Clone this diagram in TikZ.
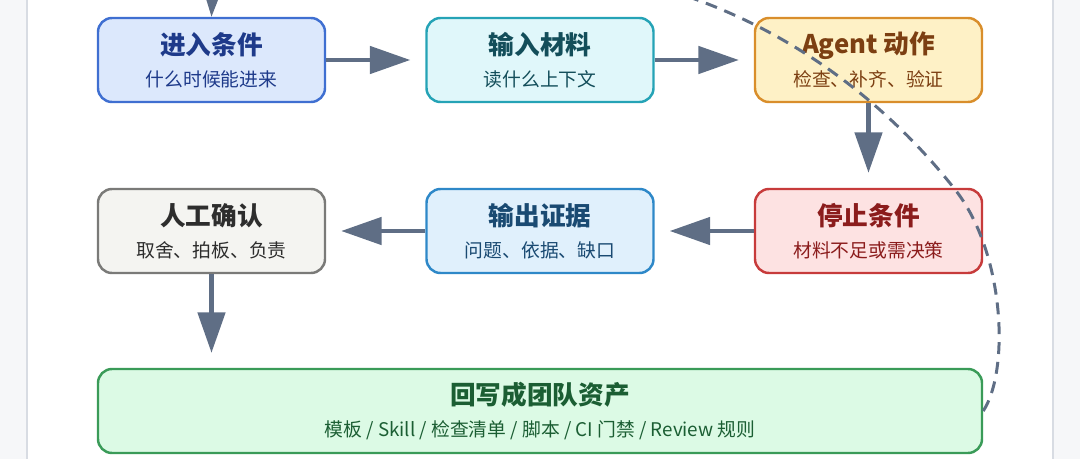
\documentclass[tikz,border=0pt]{standalone}
\usepackage{fontspec}
\setmainfont{Noto Sans CJK SC}
\usepackage{tikz}
\usetikzlibrary{positioning, arrows.meta}

\definecolor{entryfill}{HTML}{DCE8FC}
\definecolor{entryline}{HTML}{3F6FD1}
\definecolor{entrytext}{HTML}{1E3A8A}
\definecolor{inputfill}{HTML}{E0F7FA}
\definecolor{inputline}{HTML}{25A3B6}
\definecolor{inputtext}{HTML}{134E5A}
\definecolor{agentfill}{HTML}{FEF1C6}
\definecolor{agentline}{HTML}{D98E2B}
\definecolor{agenttext}{HTML}{7C3F12}
\definecolor{stopfill}{HTML}{FDE2E2}
\definecolor{stopline}{HTML}{C73B3B}
\definecolor{stoptext}{HTML}{8B1C1C}
\definecolor{evidfill}{HTML}{E0F0FC}
\definecolor{evidline}{HTML}{2E88C8}
\definecolor{evidtext}{HTML}{1A4A72}
\definecolor{humanfill}{HTML}{F4F4F1}
\definecolor{humanline}{HTML}{7A7A78}
\definecolor{humantext}{HTML}{2D2D2D}
\definecolor{assetfill}{HTML}{DCFAE5}
\definecolor{assetline}{HTML}{3A9B58}
\definecolor{assettext}{HTML}{1B5E33}
\definecolor{arrowgray}{HTML}{5F6E85}
\definecolor{sidegray}{HTML}{F6F7F9}
\definecolor{sideline}{HTML}{D8DCE3}

\newcommand{\stagetitle}[1]{{\fontsize{14.6}{18.4}\selectfont\bfseries #1}}

\begin{document}
\begin{tikzpicture}[
    stage/.style={rectangle, rounded corners=0.28cm, line width=1.4pt,
        minimum width=4.54cm, minimum height=1.68cm, align=center,
        font=\fontsize{10.7}{18.4}\selectfont},
    flow/.style={draw=arrowgray, line width=2.3pt,
        -{Triangle[length=23pt, width=15.5pt]}, shorten >=0.3cm},
    loopback/.style={draw=arrowgray, line width=1.7pt, dash pattern=on 6.8pt off 4.5pt,
        -{Triangle[length=23pt, width=15.5pt]}}]
    \useasboundingbox (0,0) rectangle (21.6,-9.18);
    \clip (0,0) rectangle (21.6,-9.18);

    % side strips
    \fill[sidegray] (0,0) rectangle (0.54,-9.18);
    \fill[sidegray] (21.06,0) rectangle (21.6,-9.18);
    \draw[sideline, line width=1.2pt] (0.54,0) -- (0.54,-9.18);
    \draw[sideline, line width=1.2pt] (21.06,0) -- (21.06,-9.18);

    % Nodes
    \node[stage, fill=entryfill, draw=entryline, text=entrytext] (entry) at (4.23,-1.2)
        {\stagetitle{进入条件}\\什么时候能进来};
    \node[stage, fill=inputfill, draw=inputline, text=inputtext] (input) at (10.8,-1.2)
        {\stagetitle{输入材料}\\读什么上下文};
    \node[stage, fill=agentfill, draw=agentline, text=agenttext] (agent) at (17.37,-1.2)
        {\stagetitle{Agent 动作}\\检查、补齐、验证};
    \node[stage, fill=stopfill, draw=stopline, text=stoptext] (stop) at (17.37,-4.62)
        {\stagetitle{停止条件}\\材料不足或需决策};
    \node[stage, fill=evidfill, draw=evidline, text=evidtext] (evidence) at (10.8,-4.62)
        {\stagetitle{输出证据}\\问题、依据、缺口};
    \node[stage, fill=humanfill, draw=humanline, text=humantext] (human) at (4.23,-4.62)
        {\stagetitle{人工确认}\\取舍、拍板、负责};
    \node[stage, fill=assetfill, draw=assetline, text=assettext, minimum width=17.68cm] (asset) at (10.8,-8.22)
        {\stagetitle{回写成团队资产}\\模板 / Skill / 检查清单 / 脚本 / CI 门禁 / Review 规则};

    % Edges
    % entry to input
    \draw[flow] (entry) -- (input);

    % input to agent
    \draw[flow] (input) -- (agent);

    % agent to stop
    \draw[flow] (agent) -- (stop);

    % stop to evidence
    \draw[flow] (stop) -- (evidence);

    % evidence to human
    \draw[flow] (evidence) -- (human);

    % human to asset
    \draw[flow] (human.south) -- (human.south |- asset.north);

    % asset back to entry
    \draw[loopback] (asset.east) .. controls (20.2,-7.4) and (20.1,-5.0) .. (19.06,-3.74)
        .. controls (18.0,-2.4) and (16.0,-0.5) .. (13.0,0.3)
        .. controls (9.0,1.8) and (4.3,1.5) .. (entry.north);

\end{tikzpicture}
\end{document}
